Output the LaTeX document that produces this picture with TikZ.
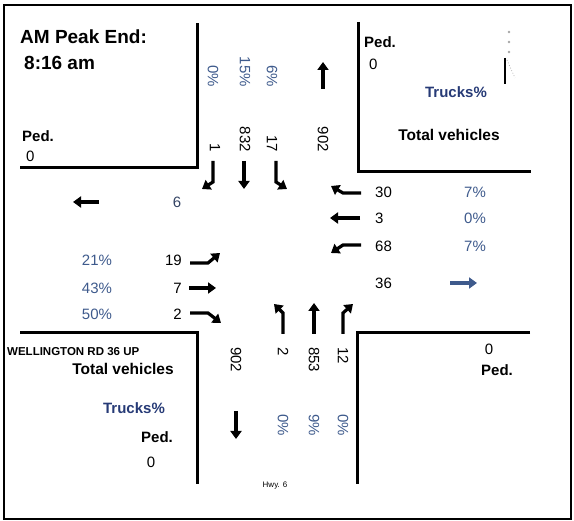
\documentclass[tikz,border=0pt]{standalone}
\usepackage{fontspec}
\setmainfont{Liberation Sans}
\usetikzlibrary{arrows.meta}
\definecolor{cPct}{RGB}{62,90,140}
\definecolor{cTrk}{RGB}{38,58,118}
\definecolor{cExit}{RGB}{52,68,100}
\newcommand{\fs}[1]{\fontsize{#1}{#1}\selectfont}

\begin{document}
\begin{tikzpicture}[x=1pt, y=-1pt, every node/.style={font=\fs{15}, inner sep=0pt},
  mv/.style={line width=3.2pt, -{Triangle[length=8pt,width=11pt]}},
  curb/.style={line width=3pt},
  pct/.style={text=cPct},
  lbl/.style={font=\fs{15}\bfseries},
  vt/.style={rotate=-90}]
  \useasboundingbox (0,0) rectangle (574,521);
  % frame
  \draw[line width=2.5pt] (4,5) rectangle (571,519);
  % kerbs of the four corners
  \draw[curb] (20,168) -- (197,168) -- (197,23);
  \draw[curb] (358,22) -- (358,172) -- (531,172);
  \draw[curb] (20,333) -- (197,333) -- (197,484);
  \draw[curb] (530,333) -- (357,333) -- (357,484);
  % title
  \node[font=\fs{19}\bfseries, anchor=west] (title) at (20,37) {AM Peak End:};
  \node[font=\fs{19}\bfseries, anchor=west] (time) at (24,63) {8:16 am};
  % corner texts
  \node[lbl, anchor=west] (pedNW) at (22,136) {Ped.};
  \node[anchor=west] (pedNWv) at (26,156) {0};
  \node[lbl, anchor=west] (pedNE) at (364,42) {Ped.};
  \node[anchor=west] (pedNEv) at (369,64) {0};
  \node[lbl, text=cTrk] (trkNE) at (456,92) {Trucks\%};
  \node[lbl, font=\fs{15.5}\bfseries] (totNE) at (449,135) {Total vehicles};
  \node[font=\fs{11.5}\bfseries, anchor=west] (road) at (7,352) {WELLINGTON RD 36 UP};
  \node[lbl, font=\fs{15.5}\bfseries] (totSW) at (123,369) {Total vehicles};
  \node[lbl, text=cTrk] (trkSW) at (134,408) {Trucks\%};
  \node[lbl] (pedSW) at (157,437) {Ped.};
  \node (pedSWv) at (151,462) {0};
  \node (pedSEv) at (489,349) {0};
  \node[lbl] (pedSE) at (497,370) {Ped.};
  \node[font=\fs{8}] (hwy) at (275,486) {Hwy. 6};
  % mark in the top right corner
  \foreach \yy in {32,42,52}
    \fill[gray!70] (509,\yy) circle (1.3);
  \draw[line width=1.2pt] (505,58) -- (505,84);
  \draw[gray!60, dotted, thick] (507,60) -- (515,78);
  % north approach
  \foreach \xx/\tt in {213/0\%, 245/15\%, 272/6\%}
    \node[vt, pct, anchor=east] at (\xx,87) {\tt};
  \foreach \xx/\tt in {215/1, 245/832, 272/17, 323/902}
    \node[vt, anchor=east] at (\xx,152) {\tt};
  \draw[mv] (323,89) -- (323,62);
  \draw[mv] (213,161) -- (213,182) -- (202,189);
  \draw[mv] (244,161) -- (244,189);
  \draw[mv] (276,161) -- (276,182) -- (287,189);
  % west approach
  \draw[mv] (99,202) -- (73,202);
  \node[text=cExit] (exW) at (177,202) {6};
  \foreach \yy/\nn/\pp in {260/19/21\%, 288/7/43\%, 314/2/50\%}{%
    \node[pct] at (97,\yy) {\pp};
    \node[anchor=east] at (182,\yy) {\nn};
  }
  \draw[mv] (190,263) -- (208,263) -- (220,253);
  \draw[mv] (189,288) -- (216,288);
  \draw[mv] (190,313) -- (208,313) -- (221,323);
  % east approach
  \foreach \yy/\nn/\pp in {192/30/7\%, 218/3/0\%, 246/68/7\%}{%
    \node[anchor=west] at (375,\yy) {\nn};
    \node[pct] at (475,\yy) {\pp};
  }
  \node[anchor=west] (exE) at (375,283) {36};
  \draw[mv, cPct] (450,283) -- (477,283);
  \draw[mv] (361,193) -- (343,193) -- (331,186);
  \draw[mv] (360,218) -- (330,218);
  \draw[mv] (361,245) -- (343,245) -- (331,253);
  % south approach
  \draw[mv] (283,334) -- (283,313) -- (274,304);
  \draw[mv] (314,334) -- (314,303);
  \draw[mv] (343,334) -- (343,313) -- (353,304);
  \foreach \xx/\tt in {236/902, 283/2, 314/853, 343/12}
    \node[vt, anchor=west] at (\xx,347) {\tt};
  \foreach \xx/\tt in {283/0\%, 314/9\%, 343/0\%}
    \node[vt, pct, anchor=west] at (\xx,414) {\tt};
  \draw[mv] (236,411) -- (236,439);
\end{tikzpicture}
\end{document}
